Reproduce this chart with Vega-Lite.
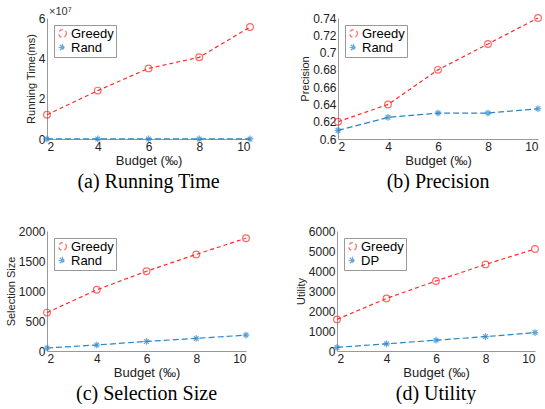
{
  "$schema": "https://vega.github.io/schema/vega-lite/v6.json",
  "padding": {"left": 5, "top": 6, "right": 2, "bottom": 0},
  "background": "white",
  "resolve": {"scale": {"color": "independent", "shape": "independent", "strokeDash": "independent"}, "legend": {"color": "independent"}},
  "config": {
    "font": "Liberation Sans",
    "view": {"stroke": null},
    "concat": {"spacing": 33},
    "axis": {"labelFont": "Liberation Sans", "labelFontSize": 12, "labelColor": "#222", "titleFont": "Liberation Sans", "titleFontSize": 13, "titleFontWeight": "normal", "titleColor": "#222", "domainColor": "#999", "ticks": false, "grid": false, "labelPadding": 2, "titlePadding": 2, "labelOverlap": false},
    "axisY": {"titleFontSize": 11},
    "title": {"font": "Liberation Serif", "fontSize": 20, "fontWeight": "normal", "color": "#000", "orient": "bottom", "offset": 5},
    "legend": {"orient": "top-left", "offset": 7, "labelFont": "Liberation Sans", "labelFontSize": 13, "labelColor": "#000", "strokeColor": "#999", "fillColor": "white", "padding": 2, "rowPadding": -2, "symbolSize": 60, "symbolStrokeWidth": 1.2, "symbolDash": [1, 0], "labelOffset": 2}
  },
  "vconcat": [
    {
      "spacing": 43,
      "resolve": {"scale": {"color": "independent", "shape": "independent", "strokeDash": "independent"}, "legend": {"color": "independent"}},
      "hconcat": [
        {
          "width": 203, "height": 121,
          "title": "(a) Running Time",
          "data": {"values": [
            {"budget": 2, "value": 12000000, "series": "Greedy"},
            {"budget": 4, "value": 24000000, "series": "Greedy"},
            {"budget": 6, "value": 35000000, "series": "Greedy"},
            {"budget": 8, "value": 40500000, "series": "Greedy"},
            {"budget": 10, "value": 55500000, "series": "Greedy"},
            {"budget": 2, "value": 20000, "series": "Rand"},
            {"budget": 4, "value": 20000, "series": "Rand"},
            {"budget": 6, "value": 20000, "series": "Rand"},
            {"budget": 8, "value": 20000, "series": "Rand"},
            {"budget": 10, "value": 20000, "series": "Rand"}
          ]},
          "layer": [
            {"mark": {"type": "line", "strokeWidth": 1.2},
             "encoding": {
              "x": {"field": "budget", "type": "quantitative", "scale": {"domain": [2, 10], "nice": false}, "axis": {"values": [2, 4, 6, 8, 10], "title": "Budget (‰)"}},
              "y": {"field": "value", "type": "quantitative", "scale": {"domain": [0, 60000000], "nice": false}, "axis": {"values": [0, 10000000, 20000000, 30000000, 40000000, 50000000, 60000000], "labelExpr": "format(datum.value / 10000000, 'd')", "title": "Running Time(ms)"}},
              "color": {"field": "series", "type": "nominal", "scale": {"domain": ["Greedy", "Rand"], "range": ["#ff2a2a", "#2a86c8"]}, "legend": {"title": null}},
              "strokeDash": {"field": "series", "type": "nominal", "scale": {"domain": ["Greedy", "Rand"], "range": [[4, 3], [6, 3]]}, "legend": null}}},
            {"mark": {"type": "point", "filled": false, "strokeWidth": 1.2, "size": 45},
             "encoding": {
              "x": {"field": "budget", "type": "quantitative", "scale": {"domain": [2, 10], "nice": false}, "axis": {"values": [2, 4, 6, 8, 10], "title": "Budget (‰)"}},
              "y": {"field": "value", "type": "quantitative", "scale": {"domain": [0, 60000000], "nice": false}, "axis": {"values": [0, 10000000, 20000000, 30000000, 40000000, 50000000, 60000000], "labelExpr": "format(datum.value / 10000000, 'd')", "title": "Running Time(ms)"}},
              "color": {"field": "series", "type": "nominal", "legend": {"title": null}},
              "shape": {"field": "series", "type": "nominal", "scale": {"domain": ["Greedy", "Rand"], "range": ["circle", "M-1,0L1,0M0,-1L0,1M-0.7,-0.7L0.7,0.7M-0.7,0.7L0.7,-0.7"]}, "legend": null}}},
            {"data": {"values": [{"label": "×10⁷"}]}, "mark": {"type": "text", "align": "left", "baseline": "bottom", "dx": 2, "dy": -1, "fontSize": 11, "color": "#333"}, "encoding": {"x": {"datum": 2}, "y": {"datum": 60000000}, "text": {"field": "label"}}}
          ]
        },
        {
          "width": 200, "height": 121,
          "title": "(b) Precision",
          "data": {"values": [
            {"budget": 2, "value": 0.62, "series": "Greedy"},
            {"budget": 4, "value": 0.64, "series": "Greedy"},
            {"budget": 6, "value": 0.68, "series": "Greedy"},
            {"budget": 8, "value": 0.71, "series": "Greedy"},
            {"budget": 10, "value": 0.74, "series": "Greedy"},
            {"budget": 2, "value": 0.61, "series": "Rand"},
            {"budget": 4, "value": 0.625, "series": "Rand"},
            {"budget": 6, "value": 0.63, "series": "Rand"},
            {"budget": 8, "value": 0.63, "series": "Rand"},
            {"budget": 10, "value": 0.635, "series": "Rand"}
          ]},
          "encoding": {
            "x": {"field": "budget", "type": "quantitative", "scale": {"domain": [2, 10], "nice": false}, "axis": {"values": [2, 4, 6, 8, 10], "title": "Budget (‰)"}},
            "y": {"field": "value", "type": "quantitative", "scale": {"domain": [0.6, 0.74], "nice": false, "zero": false}, "axis": {"values": [0.6, 0.62, 0.64, 0.66, 0.68, 0.7, 0.72, 0.74], "format": "~g", "title": "Precision"}},
            "color": {"field": "series", "type": "nominal", "scale": {"domain": ["Greedy", "Rand"], "range": ["#ff2a2a", "#2a86c8"]}, "legend": {"title": null}}
          },
          "layer": [
            {"mark": {"type": "line", "strokeWidth": 1.2},
             "encoding": {"strokeDash": {"field": "series", "type": "nominal", "scale": {"domain": ["Greedy", "Rand"], "range": [[4, 3], [6, 3]]}, "legend": null}}},
            {"mark": {"type": "point", "filled": false, "strokeWidth": 1.2, "size": 45},
             "encoding": {"shape": {"field": "series", "type": "nominal", "scale": {"domain": ["Greedy", "Rand"], "range": ["circle", "M-1,0L1,0M0,-1L0,1M-0.7,-0.7L0.7,0.7M-0.7,0.7L0.7,-0.7"]}, "legend": null}}}
          ]
        }
      ]
    },
    {
      "spacing": 43,
      "resolve": {"scale": {"color": "independent", "shape": "independent", "strokeDash": "independent"}, "legend": {"color": "independent"}},
      "hconcat": [
        {
          "width": 199, "height": 120,
          "title": "(c) Selection Size",
          "data": {"values": [
            {"budget": 2, "value": 640, "series": "Greedy"},
            {"budget": 4, "value": 1020, "series": "Greedy"},
            {"budget": 6, "value": 1330, "series": "Greedy"},
            {"budget": 8, "value": 1610, "series": "Greedy"},
            {"budget": 10, "value": 1880, "series": "Greedy"},
            {"budget": 2, "value": 50, "series": "Rand"},
            {"budget": 4, "value": 100, "series": "Rand"},
            {"budget": 6, "value": 160, "series": "Rand"},
            {"budget": 8, "value": 210, "series": "Rand"},
            {"budget": 10, "value": 265, "series": "Rand"}
          ]},
          "encoding": {
            "x": {"field": "budget", "type": "quantitative", "scale": {"domain": [2, 10], "nice": false}, "axis": {"values": [2, 4, 6, 8, 10], "title": "Budget (‰)"}},
            "y": {"field": "value", "type": "quantitative", "scale": {"domain": [0, 2000], "nice": false}, "axis": {"values": [0, 500, 1000, 1500, 2000], "format": "d", "title": "Selection Size"}},
            "color": {"field": "series", "type": "nominal", "scale": {"domain": ["Greedy", "Rand"], "range": ["#ff2a2a", "#2a86c8"]}, "legend": {"title": null}}
          },
          "layer": [
            {"mark": {"type": "line", "strokeWidth": 1.2},
             "encoding": {"strokeDash": {"field": "series", "type": "nominal", "scale": {"domain": ["Greedy", "Rand"], "range": [[4, 3], [6, 3]]}, "legend": null}}},
            {"mark": {"type": "point", "filled": false, "strokeWidth": 1.2, "size": 45},
             "encoding": {"shape": {"field": "series", "type": "nominal", "scale": {"domain": ["Greedy", "Rand"], "range": ["circle", "M-1,0L1,0M0,-1L0,1M-0.7,-0.7L0.7,0.7M-0.7,0.7L0.7,-0.7"]}, "legend": null}}}
          ]
        },
        {
          "width": 198, "height": 120,
          "title": "(d) Utility",
          "data": {"values": [
            {"budget": 2, "value": 1580, "series": "Greedy"},
            {"budget": 4, "value": 2630, "series": "Greedy"},
            {"budget": 6, "value": 3500, "series": "Greedy"},
            {"budget": 8, "value": 4330, "series": "Greedy"},
            {"budget": 10, "value": 5100, "series": "Greedy"},
            {"budget": 2, "value": 180, "series": "DP"},
            {"budget": 4, "value": 360, "series": "DP"},
            {"budget": 6, "value": 540, "series": "DP"},
            {"budget": 8, "value": 720, "series": "DP"},
            {"budget": 10, "value": 920, "series": "DP"}
          ]},
          "encoding": {
            "x": {"field": "budget", "type": "quantitative", "scale": {"domain": [2, 10], "nice": false}, "axis": {"values": [2, 4, 6, 8, 10], "title": "Budget (‰)"}},
            "y": {"field": "value", "type": "quantitative", "scale": {"domain": [0, 6000], "nice": false}, "axis": {"values": [0, 1000, 2000, 3000, 4000, 5000, 6000], "format": "d", "title": "Utility"}},
            "color": {"field": "series", "type": "nominal", "scale": {"domain": ["Greedy", "DP"], "range": ["#ff2a2a", "#2a86c8"]}, "legend": {"title": null}}
          },
          "layer": [
            {"mark": {"type": "line", "strokeWidth": 1.2},
             "encoding": {"strokeDash": {"field": "series", "type": "nominal", "scale": {"domain": ["Greedy", "DP"], "range": [[4, 3], [6, 3]]}, "legend": null}}},
            {"mark": {"type": "point", "filled": false, "strokeWidth": 1.2, "size": 45},
             "encoding": {"shape": {"field": "series", "type": "nominal", "scale": {"domain": ["Greedy", "DP"], "range": ["circle", "M-1,0L1,0M0,-1L0,1M-0.7,-0.7L0.7,0.7M-0.7,0.7L0.7,-0.7"]}, "legend": null}}}
          ]
        }
      ]
    }
  ]
}
